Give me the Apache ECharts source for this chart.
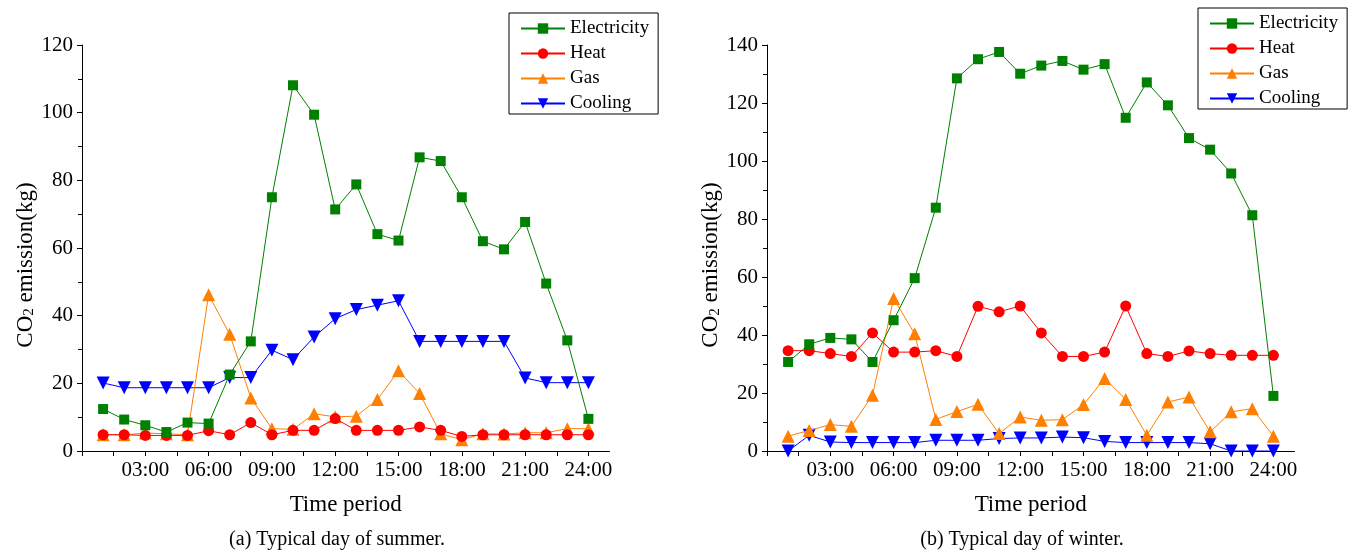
<!DOCTYPE html>
<html>
<head>
<meta charset="utf-8">
<script src="https://cdn.jsdelivr.net/npm/echarts@6/dist/echarts.min.js"></script>
<style>
  html, body { margin: 0; padding: 0; background: #fff; }
  #main { width: 1355px; height: 552px; }
</style>
</head>
<body>
<div id="main"></div>
<script>
var hours = [1, 2, 3, 4, 5, 6, 7, 8, 9, 10, 11, 12, 13, 14, 15, 16, 17, 18, 19, 20, 21, 22, 23, 24];
var tickHours = [0, 1.5, 3, 4.5, 6, 7.5, 9, 10.5, 12, 13.5, 15, 16.5, 18, 19.5, 21, 22.5, 24];
var labelHours = [3, 6, 9, 12, 15, 18, 21, 24];
var seriesNames = ["Electricity", "Heat", "Gas", "Cooling"];

// (a) summer
var summerElec = [12.4, 9.3, 7.6, 5.6, 8.4, 8.1, 22.6, 32.4, 75.0, 108.1, 99.4, 71.4, 78.8, 64.1, 62.2, 86.8, 85.7, 75.0, 62.0, 59.6, 67.7, 49.5, 32.7, 9.5];
var summerHeat = [4.8, 4.8, 4.6, 4.6, 4.6, 6.0, 4.8, 8.4, 4.8, 6.1, 6.1, 9.6, 6.1, 6.1, 6.1, 7.1, 6.1, 4.3, 4.8, 4.8, 4.8, 4.8, 4.8, 4.8];
var summerGas = [4.8, 4.8, 5.3, 5.1, 4.8, 46.2, 34.5, 15.7, 6.6, 6.4, 11.0, 10.1, 10.3, 15.2, 23.7, 17.0, 5.1, 3.3, 5.1, 5.0, 5.4, 5.4, 6.6, 6.6];
var summerCool = [20.1, 18.7, 18.7, 18.7, 18.7, 18.7, 21.7, 21.7, 29.8, 27.0, 33.7, 39.1, 41.8, 43.1, 44.4, 32.4, 32.4, 32.4, 32.4, 32.4, 21.6, 20.2, 20.2, 20.2];

// (b) winter
var winterElec = [30.7, 36.8, 39.0, 38.5, 30.7, 45.1, 59.6, 83.9, 128.5, 135.1, 137.6, 130.1, 132.9, 134.5, 131.5, 133.4, 114.9, 127.1, 119.2, 107.9, 103.9, 95.7, 81.3, 19.0];
var winterHeat = [34.6, 34.6, 33.6, 32.6, 40.7, 34.1, 34.1, 34.6, 32.6, 49.9, 48.0, 50.0, 40.7, 32.6, 32.6, 34.1, 50.0, 33.6, 32.6, 34.5, 33.6, 33.0, 33.0, 33.0];
var winterGas = [5.1, 7.1, 9.1, 8.5, 19.2, 52.6, 40.4, 10.9, 13.6, 16.1, 6.0, 11.7, 10.6, 10.8, 16.0, 25.0, 17.8, 5.4, 16.9, 18.6, 6.6, 13.5, 14.6, 5.1];
var winterCool = [0, 5.4, 3.1, 2.9, 2.9, 2.9, 2.9, 3.7, 3.7, 3.7, 4.3, 4.5, 4.5, 4.8, 4.6, 3.3, 2.9, 2.9, 2.9, 2.9, 2.5, 0, 0, 0];

var colors = ["#008000", "#ff0000", "#ff8000", "#0000ff"];
var symbols = ["rect", "circle", "triangle", "triangle"];
var symbolSizes = [10, 11, 13, 13];
var rotates = [0, 0, 0, 180];
var serif = "Liberation Serif";

function pairs(vals) {
  return hours.map(function (h, i) { return [h, vals[i]]; });
}

function makeSeries(idx, lists) {
  return seriesNames.map(function (name, i) {
    return {
      name: name,
      type: "line",
      xAxisIndex: idx,
      yAxisIndex: idx,
      data: pairs(lists[i]),
      symbol: symbols[i],
      symbolSize: symbolSizes[i],
      symbolRotate: rotates[i],
      showSymbol: true,
      z: 10 - i,
      lineStyle: { color: colors[i], width: 1 },
      itemStyle: { color: colors[i] },
      animation: false
    };
  });
}

function xAxisOf(idx) {
  return {
    gridIndex: idx,
    type: "value",
    min: 0,
    max: 25,
    name: "Time period",
    nameLocation: "middle",
    nameGap: 42,
    nameTextStyle: { fontFamily: serif, fontSize: 23, color: "#000" },
    axisLine: { show: true, lineStyle: { color: "#000", width: 1 } },
    axisTick: { show: true, customValues: tickHours, length: 5, lineStyle: { color: "#000" } },
    axisLabel: {
      customValues: labelHours,
      margin: 9,
      fontFamily: serif,
      fontSize: 21,
      color: "#000",
      formatter: function (v) { return (v < 10 ? "0" : "") + v + ":00"; }
    },
    splitLine: { show: false }
  };
}

function yAxisOf(idx, max) {
  return {
    gridIndex: idx,
    type: "value",
    min: 0,
    max: max,
    interval: 20,
    name: "{n|CO}{s|2}{n| emission(kg)}",
    nameLocation: "middle",
    nameGap: idx === 0 ? 45 : 42,
    nameTextStyle: {
      padding: [0, 34, 0, 0],
      rich: {
        n: { fontFamily: serif, fontSize: 23, color: "#000", lineHeight: 26, verticalAlign: "bottom" },
        s: { fontFamily: serif, fontSize: 15, color: "#000", lineHeight: 15, verticalAlign: "bottom" }
      }
    },
    axisLine: { show: true, lineStyle: { color: "#000", width: 1 } },
    axisTick: { show: true, length: 5, lineStyle: { color: "#000" } },
    minorTick: { show: true, splitNumber: 2, length: 4, lineStyle: { color: "#000" } },
    axisLabel: { fontFamily: serif, fontSize: 21, color: "#000", margin: 9 },
    splitLine: { show: false }
  };
}

function legendOf(left, top) {
  return {
    orient: "vertical",
    left: left,
    top: top,
    data: seriesNames,
    itemWidth: 44,
    itemHeight: 13,
    itemGap: 6,
    padding: [6, 9, 1, 11],
    borderColor: "#000",
    borderWidth: 1,
    textStyle: { fontFamily: serif, fontSize: 19, color: "#000", lineHeight: 18 }
  };
}

var chart = echarts.init(document.getElementById("main"));
chart.setOption({
  animation: false,
  backgroundColor: "#fff",
  title: [
    { text: "(a) Typical day of summer.", left: 332, top: 525, textAlign: "center",
      textStyle: { fontFamily: serif, fontSize: 20, fontWeight: "normal", color: "#000" } },
    { text: "(b) Typical day of winter.", left: 1017, top: 525, textAlign: "center",
      textStyle: { fontFamily: serif, fontSize: 20, fontWeight: "normal", color: "#000" } }
  ],
  legend: [legendOf(509, 13), legendOf(1198, 8)],
  grid: [
    { left: 82, top: 45, width: 527.5, height: 406 },
    { left: 767, top: 45, width: 527.5, height: 406 }
  ],
  xAxis: [xAxisOf(0), xAxisOf(1)],
  yAxis: [yAxisOf(0, 120), yAxisOf(1, 140)],
  series: makeSeries(0, [summerElec, summerHeat, summerGas, summerCool])
    .concat(makeSeries(1, [winterElec, winterHeat, winterGas, winterCool]))
});
</script>
</body>
</html>
